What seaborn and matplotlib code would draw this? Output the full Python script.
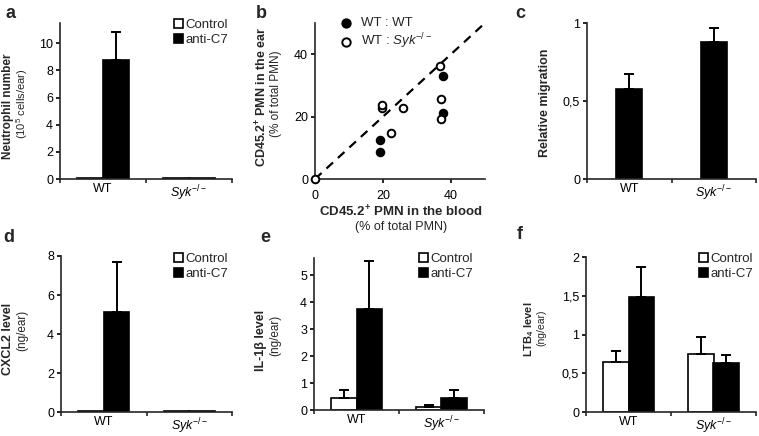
import numpy as np
import pandas as pd
import matplotlib
matplotlib.use("Agg")
import matplotlib.pyplot as plt
from matplotlib.container import BarContainer
import seaborn as sns

# ---------------- data ----------------
genotypes = ["WT", "Syk-/-"]
tick_labels = ["WT", r"$\mathit{Syk}^{-/-}$"]
treatments = ["Control", "anti-C7"]

neut_control = [0.05, 0.05]
neut_control_err = [0.0, 0.0]
neut_anti = [8.75, 0.05]
neut_anti_err = [2.05, 0.0]

chim_wt_x = [19.1, 19.1, 37.7, 37.7]
chim_wt_y = [8.5, 12.5, 21.3, 33.0]
chim_syk_x = [0.0, 19.6, 19.8, 22.4, 25.8, 37.0, 37.1, 36.8]
chim_syk_y = [0.0, 22.6, 23.7, 14.8, 22.9, 19.1, 25.5, 36.2]

migration = [0.58, 0.878]
migration_err = [0.092, 0.092]

cxcl2_control = [0.03, 0.03]
cxcl2_control_err = [0.0, 0.0]
cxcl2_anti = [5.12, 0.04]
cxcl2_anti_err = [2.57, 0.0]

il1b_control = [0.46, 0.11]
il1b_control_err = [0.27, 0.06]
il1b_anti = [3.74, 0.46]
il1b_anti_err = [1.78, 0.27]

ltb4_control = [0.644, 0.752]
ltb4_control_err = [0.146, 0.216]
ltb4_anti = [1.486, 0.63]
ltb4_anti_err = [0.389, 0.10]

# ---------------- style ----------------
sns.set_style("ticks")
plt.rcParams["font.family"] = ["Liberation Sans", "DejaVu Sans"]
plt.rcParams["mathtext.fontset"] = "custom"
plt.rcParams["mathtext.rm"] = "Liberation Sans"
plt.rcParams["mathtext.it"] = "Liberation Sans:italic"
plt.rcParams["mathtext.bf"] = "Liberation Sans:bold"
plt.rcParams["axes.linewidth"] = 1.2
plt.rcParams["xtick.major.width"] = 1.2
plt.rcParams["ytick.major.width"] = 1.2
plt.rcParams["xtick.minor.width"] = 1.2

W, H = 759, 436
fig = plt.figure(figsize=(W / 100, H / 100), dpi=100)
FS = 9


def add_ax(l, r, t, b):
    ax = fig.add_axes([l / W, 1 - b / H, (r - l) / W, (b - t) / H])
    sns.despine(ax=ax)
    ax.tick_params(axis="both", direction="out", length=3, labelsize=FS, colors="black", pad=2)
    return ax


def ftext(x, y, s, **kw):
    kw.setdefault("ha", "center")
    kw.setdefault("va", "center")
    fig.text(x / W, 1 - y / H, s, **kw)


def setup_bar_xaxis(ax):
    ax.set_xlim(-0.5, 1.5)
    ax.set_xticks([0, 1])
    ax.set_xticklabels(tick_labels, fontsize=FS)
    ax.tick_params(axis="x", which="major", length=0, pad=3)
    ax.set_xticks([-0.5, 0.5, 1.5], minor=True)
    ax.tick_params(axis="x", which="minor", length=3, direction="out")
    ax.set_xlabel("")
    ax.set_ylabel("")


def bar_containers(ax):
    return [c for c in ax.containers if isinstance(c, BarContainer)]


def grouped_bars(ax, ctrl, ctrl_err, anti, anti_err, legend_xy=None):
    df = pd.DataFrame({
        "genotype": genotypes * 2,
        "treatment": [treatments[0]] * 2 + [treatments[1]] * 2,
        "value": list(ctrl) + list(anti),
    })
    errs = {"Control": ctrl_err, "anti-C7": anti_err}
    sns.barplot(data=df, x="genotype", y="value", hue="treatment",
                hue_order=treatments, order=genotypes,
                palette={"Control": "white", "anti-C7": "black"},
                edgecolor="black", linewidth=1.2, width=0.6,
                errorbar=None, legend=False, ax=ax)
    conts = bar_containers(ax)
    for cont in conts:
        for bar in cont:
            xc = bar.get_x() + bar.get_width() / 2
            cat = int(round(xc))
            level = "Control" if xc < cat else "anti-C7"
            e = errs[level][cat]
            if e > 0:
                ax.errorbar(xc, bar.get_height(), yerr=[[0], [e]], fmt="none",
                            ecolor="black", elinewidth=1.4, capsize=3.5, capthick=1.4)
    setup_bar_xaxis(ax)
    if legend_xy is not None:
        ax.legend(conts, treatments, loc="upper left",
                  bbox_to_anchor=(legend_xy[0] / W, 1 - legend_xy[1] / H),
                  bbox_transform=fig.transFigure, frameon=False, fontsize=9.5,
                  handlelength=0.7, handleheight=0.7, handletextpad=0.15,
                  borderpad=0, borderaxespad=0, labelspacing=0.2)


def comma(v):
    s = ("%g" % v)
    return s.replace(".", ",")


# ---------------- panel a ----------------
ax_a = add_ax(60, 232, 23, 179)
grouped_bars(ax_a, neut_control, neut_control_err, neut_anti, neut_anti_err, legend_xy=(174, 19))
ax_a.set_ylim(0, 11.5)
ax_a.set_yticks([0, 2, 4, 6, 8, 10])
ftext(8, 106, "Neutrophil number", rotation=90, fontsize=8.5, fontweight="bold")
ftext(22, 104, r"(10$^5$ cells/ear)", rotation=90, fontsize=8)

# ---------------- panel b ----------------
ax_b = add_ax(315, 485, 23, 179)
sns.scatterplot(x=chim_wt_x, y=chim_wt_y, ax=ax_b, color="black", edgecolor="black",
                s=32, linewidth=1.2, label="WT : WT", clip_on=False, zorder=3)
sns.scatterplot(x=chim_syk_x, y=chim_syk_y, ax=ax_b, color="white", edgecolor="black",
                s=30, linewidth=1.4, label=r"WT : $\mathit{Syk}^{-/-}$", clip_on=False, zorder=4)
ax_b.axline((0, 0), slope=1, color="black", lw=1.6, ls=(0, (4, 3)), zorder=2)
ax_b.set_xlim(0, 50)
ax_b.set_ylim(0, 50)
ax_b.set_xticks([0, 20, 40])
ax_b.set_yticks([0, 20, 40])
ax_b.tick_params(axis="x", pad=5)
ax_b.legend(loc="upper left", bbox_to_anchor=(333 / W, 1 - 17 / H),
            bbox_transform=fig.transFigure, frameon=False, fontsize=9.5,
            handletextpad=0.1, borderpad=0, borderaxespad=0, labelspacing=0.15,
            markerscale=1.1)
ftext(262, 97, r"CD45.2$^{\mathbf{+}}$ PMN in the ear", rotation=90, fontsize=9, fontweight="bold")
ftext(276, 94, "(% of total PMN)", rotation=90, fontsize=8.5)
ftext(401, 212, r"CD45.2$^{\mathbf{+}}$ PMN in the blood", fontsize=9.5, fontweight="bold")
ftext(401, 227, "(% of total PMN)", fontsize=9)

# ---------------- panel c ----------------
ax_c = add_ax(587, 756, 23, 179)
df_c = pd.DataFrame({"genotype": genotypes, "value": migration})
sns.barplot(data=df_c, x="genotype", y="value", order=genotypes, color="black",
            edgecolor="black", linewidth=1.2, width=0.31, errorbar=None, ax=ax_c)
for cont in bar_containers(ax_c):
    for bar in cont:
        xc = bar.get_x() + bar.get_width() / 2
        cat = int(round(xc))
        ax_c.errorbar(xc, bar.get_height(), yerr=[[0], [migration_err[cat]]], fmt="none",
                      ecolor="black", elinewidth=1.4, capsize=3.5, capthick=1.4)
setup_bar_xaxis(ax_c)
ax_c.set_ylim(0, 1)
ax_c.set_yticks([0, 0.5, 1])
ax_c.set_yticklabels([comma(v) for v in [0, 0.5, 1]])
ftext(545, 103, "Relative migration", rotation=90, fontsize=9, fontweight="bold")

# ---------------- panel d ----------------
ax_d = add_ax(61, 232, 256, 412)
grouped_bars(ax_d, cxcl2_control, cxcl2_control_err, cxcl2_anti, cxcl2_anti_err, legend_xy=(174, 253))
ax_d.set_ylim(0, 8)
ax_d.set_yticks([0, 2, 4, 6, 8])
ftext(8, 339, "CXCL2 level", rotation=90, fontsize=9, fontweight="bold")
ftext(22, 330, "(ng/ear)", rotation=90, fontsize=8.5)

# ---------------- panel e ----------------
ax_e = add_ax(314, 484, 258, 410)
grouped_bars(ax_e, il1b_control, il1b_control_err, il1b_anti, il1b_anti_err, legend_xy=(419, 253))
ax_e.set_ylim(0, 5.65)
ax_e.set_yticks([0, 1, 2, 3, 4, 5])
ftext(261, 340, "IL-1β level", rotation=90, fontsize=9, fontweight="bold")
ftext(275, 335, "(ng/ear)", rotation=90, fontsize=8.5)

# ---------------- panel f ----------------
ax_f = add_ax(586, 756, 257, 412)
grouped_bars(ax_f, ltb4_control, ltb4_control_err, ltb4_anti, ltb4_anti_err, legend_xy=(699, 253))
ax_f.set_ylim(0, 2)
ax_f.set_yticks([0, 0.5, 1, 1.5, 2])
ax_f.set_yticklabels([comma(v) for v in [0, 0.5, 1, 1.5, 2]])
ftext(529, 329, r"LTB$_{\mathbf{4}}$ level", rotation=90, fontsize=8, fontweight="bold")
ftext(541, 328, "(ng/ear)", rotation=90, fontsize=7.5)

# ---------------- panel letters ----------------
for (x, y, s) in [(11, 14, "a"), (261, 14, "b"), (520, 14, "c"),
                  (9, 238, "d"), (265, 238, "e"), (520, 234, "f")]:
    ftext(x, y, s, fontsize=13, fontweight="bold")

fig.savefig("out.png", dpi=100)
